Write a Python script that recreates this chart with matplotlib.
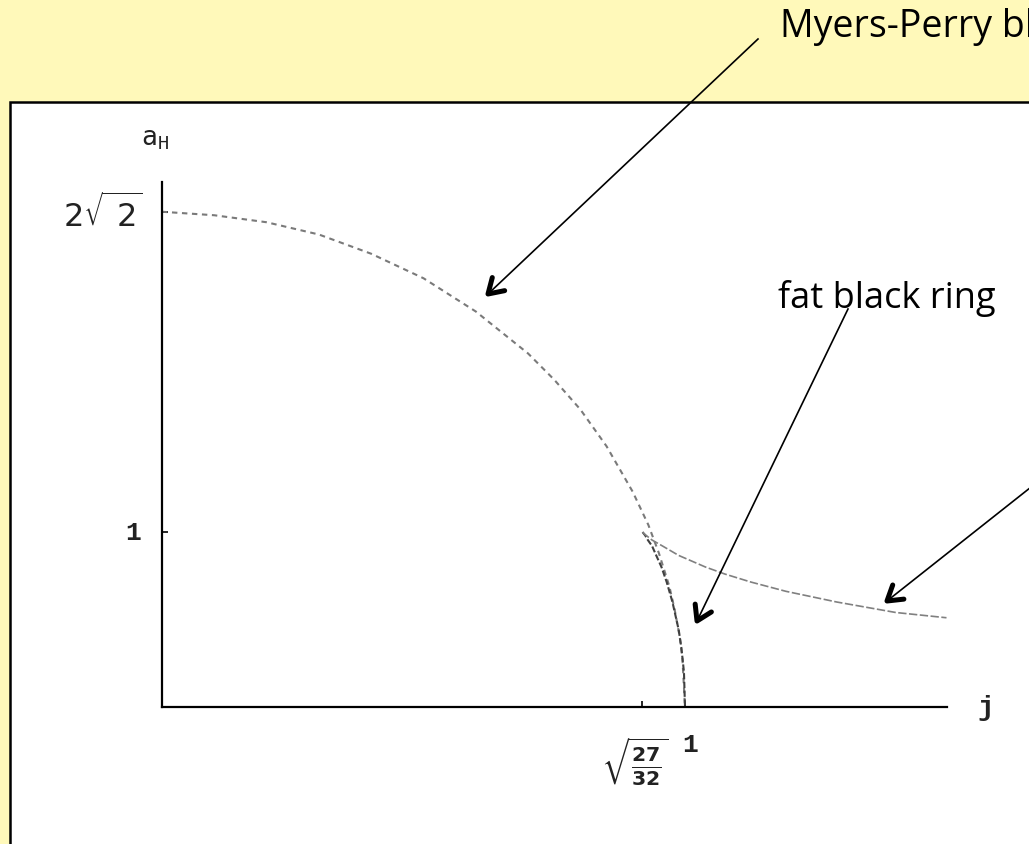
import numpy as np
import matplotlib
matplotlib.use("Agg")
import matplotlib.pyplot as plt
from matplotlib.patches import Rectangle
from matplotlib.lines import Line2D

W, H = 1029, 845

# Myers-Perry branch (j, a_H)
mp_j = [0.0, 0.1, 0.2, 0.3, 0.4, 0.5, 0.6, 0.7, 0.75, 0.8, 0.85, 0.9,
        0.93, 0.95, 0.97, 0.98, 0.99, 0.995, 1.0]
mp_a = [2.83, 2.81, 2.77, 2.70, 2.59, 2.45, 2.26, 2.02, 1.87, 1.70, 1.49,
        1.23, 1.04, 0.88, 0.69, 0.56, 0.40, 0.28, 0.0]

# fat black ring branch
fat_j = [0.919, 0.920, 0.924, 0.929, 0.937, 0.945, 0.955, 0.965, 0.976,
         0.988, 0.993, 0.998, 1.0]
fat_a = [1.0, 0.995, 0.98, 0.954, 0.92, 0.866, 0.80, 0.714, 0.60,
         0.44, 0.34, 0.20, 0.0]

# thin black ring branch
thin_j = [0.919, 0.920, 0.926, 0.937, 0.957, 0.988, 1.039, 1.076, 1.126,
          1.193, 1.29, 1.403, 1.50]
thin_a = [1.0, 0.995, 0.98, 0.954, 0.92, 0.866, 0.80, 0.76, 0.714,
          0.661, 0.60, 0.54, 0.51]

j_crit = 0.9186
a_top = 2.828

BG = "#FFF9BA"
INK = "#222222"

fig = plt.figure(figsize=(W / 100, H / 100), dpi=100, facecolor=BG)


def px(x, y):
    # pixel position (top-left origin) -> figure fraction
    return x / W, 1 - y / H


# white panel with black frame, running off the right and bottom edges
panel = Rectangle((10 / W, -0.2), 1.2, (1 - 103 / H) + 0.2,
                  transform=fig.transFigure, facecolor="white",
                  edgecolor="black", lw=1.8, zorder=-1)
fig.add_artist(panel)

ax = fig.add_axes([162 / W, 137 / H, 1.5 * 523 / W, 525 / H])
ax.set_facecolor("none")
ax.set_xlim(0, 1.5)
ax.set_ylim(0, 3.0)
for s in ["top", "right"]:
    ax.spines[s].set_visible(False)
for s in ["left", "bottom"]:
    ax.spines[s].set_linewidth(1.6)
ax.set_xticks([j_crit, 1.0])
ax.set_yticks([1.0, a_top])
ax.tick_params(direction="in", length=4, width=1.2, labelbottom=False,
               labelleft=False)

ax.plot(mp_j, mp_a, color="#7a7a7a", lw=1.5, dashes=(2.6, 2.2))
ax.plot(fat_j, fat_a, color="#404040", lw=1.5, dashes=(3, 1.2))
ax.plot(thin_j, thin_a, color="#808080", lw=1.2, dashes=(5, 1.5))

mono = "Liberation Mono"
ax.annotate("1", xy=(0, 1.0), xytext=(-15, 0), textcoords="offset points",
            ha="right", va="center", fontsize=19, family=mono,
            fontweight="bold", color=INK)
ax.annotate(r"$2\sqrt{\ 2}$", xy=(0, a_top), xytext=(-14, -1),
            textcoords="offset points", ha="right", va="center",
            fontsize=23, color=INK)
ax.annotate("1", xy=(1.0, 0), xytext=(-2, -27), textcoords="offset points",
            ha="left", va="center", fontsize=19, family=mono,
            fontweight="bold", color=INK)
ax.annotate(r"$\sqrt{\frac{\mathbf{27}}{\mathbf{32}}}$", xy=(j_crit, 0),
            xytext=(-5, -38), textcoords="offset points", ha="center",
            va="center", fontsize=21, color=INK)
ax.annotate(r"$\mathtt{a}_\mathtt{H}$", xy=(0, 3.0), xytext=(-5, 22),
            textcoords="offset points", ha="center", va="bottom",
            fontsize=19, color=INK)
ax.annotate("j", xy=(1.5, 0), xytext=(28, 0), textcoords="offset points",
            ha="center", va="center", fontsize=20, family=mono,
            fontweight="bold", color=INK)

# callout labels
fig.text(*px(780, 37), "Myers-Perry black hole", fontsize=27,
         family="Open Sans", va="baseline", ha="left")
fig.text(*px(778, 308), "fat black ring", fontsize=26,
         family="Open Sans", va="baseline", ha="left")


def arrow(tail, tip, head=17, spread=32):
    tx, ty = tail
    hx, hy = tip
    fig.add_artist(Line2D([tx / W, hx / W], [1 - ty / H, 1 - hy / H],
                          transform=fig.transFigure, color="black", lw=1.2))
    ang = np.arctan2(ty - hy, tx - hx)
    xs, ys = [], []
    for d in (spread, 0, -spread):
        a = ang + np.radians(d)
        r = 0 if d == 0 else head
        xs.append((hx + r * np.cos(a)) / W)
        ys.append(1 - (hy + r * np.sin(a)) / H)
    fig.add_artist(Line2D(xs, ys, transform=fig.transFigure, color="black",
                          lw=3.6, solid_capstyle="round",
                          solid_joinstyle="round"))


arrow((758, 40), (488, 295))
arrow((848, 310), (697, 622))
arrow((1040, 481), (887, 602))

fig.savefig("out.png", dpi=100, facecolor=BG)
